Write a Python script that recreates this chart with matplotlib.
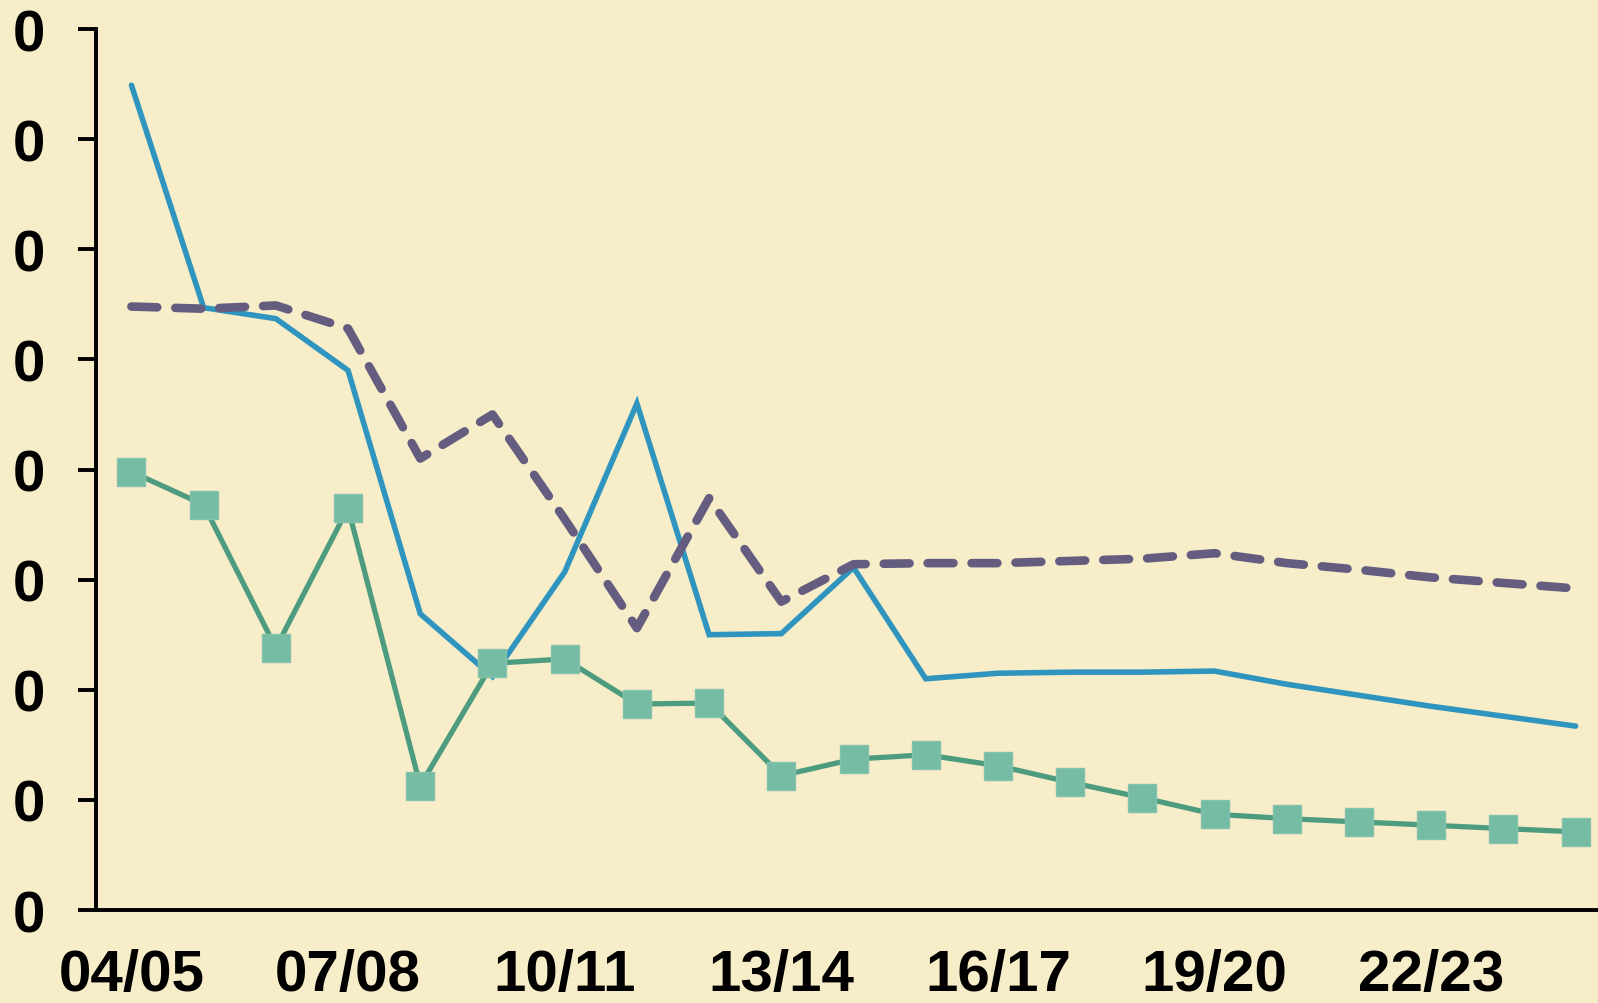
import numpy as np
import matplotlib
matplotlib.use("Agg")
import matplotlib.pyplot as plt

plt.rcParams['font.family'] = ['Liberation Sans', 'DejaVu Sans']

seasons = ["04/05", "05/06", "06/07", "07/08", "08/09", "09/10", "10/11",
           "11/12", "12/13", "13/14", "14/15", "15/16", "16/17", "17/18",
           "18/19", "19/20", "20/21", "21/22", "22/23", "23/24", "24/25"]

blue = [7.49, 5.47, 5.37, 4.90, 2.69, 2.12, 3.07, 4.60, 2.50, 2.51, 3.11,
        2.10, 2.15, 2.16, 2.16, 2.17, 2.05, 1.95, 1.85, 1.76, 1.67]
dashed = [5.48, 5.46, 5.49, 5.28, 4.10, 4.50, 3.55, 2.56, 3.74, 2.80, 3.14,
          3.15, 3.15, 3.17, 3.19, 3.24, 3.15, 3.09, 3.02, 2.97, 2.92]
green = [3.98, 3.68, 2.38, 3.65, 1.13, 2.24, 2.28, 1.87, 1.88, 1.22, 1.37,
         1.41, 1.31, 1.16, 1.02, 0.87, 0.83, 0.80, 0.77, 0.74, 0.71]

ytick_vals = [0, 1, 2, 3, 4, 5, 6, 7, 8]
ytick_labels = ["0"] * len(ytick_vals)
xtick_idx = [0, 3, 6, 9, 12, 15, 18]

bg = "#F7EDC9"
fig = plt.figure(figsize=(15.98, 10.04), dpi=100, facecolor=bg)
ax = fig.add_axes([0.0601, 0.0926, 0.9399, 0.8775], facecolor=bg)

x = np.arange(len(seasons))
ax.plot(x, blue, color="#2F95BF", lw=4.0, solid_capstyle="round",
        solid_joinstyle="miter", zorder=2)
ax.plot(x, dashed, color="#645D7F", lw=6.2, dashes=(3.0, 2.1),
        dash_capstyle="round", zorder=3)
ax.plot(x, green, color="#4E9C80", lw=3.8, marker="s", markersize=20,
        markerfacecolor="#76BBA4", markeredgecolor="#84C2AD",
        markeredgewidth=1, zorder=4)

ax.set_xlim(-0.49, 20.31)
ax.set_ylim(0, 8)
ax.set_yticks(ytick_vals)
ax.set_yticklabels(ytick_labels)
ax.set_xticks(xtick_idx)
ax.set_xticklabels([seasons[i] for i in xtick_idx])

for s in ["top", "right"]:
    ax.spines[s].set_visible(False)
for s in ["left", "bottom"]:
    ax.spines[s].set_linewidth(2.8)
    ax.spines[s].set_color("black")

ax.tick_params(axis="y", direction="out", length=13, width=2.8, pad=24,
               labelsize=42)
ax.tick_params(axis="x", length=0, pad=27, labelsize=42)
for lbl in ax.get_xticklabels() + ax.get_yticklabels():
    lbl.set_fontweight("bold")

fig.savefig("out.png", dpi=100, facecolor=bg)
